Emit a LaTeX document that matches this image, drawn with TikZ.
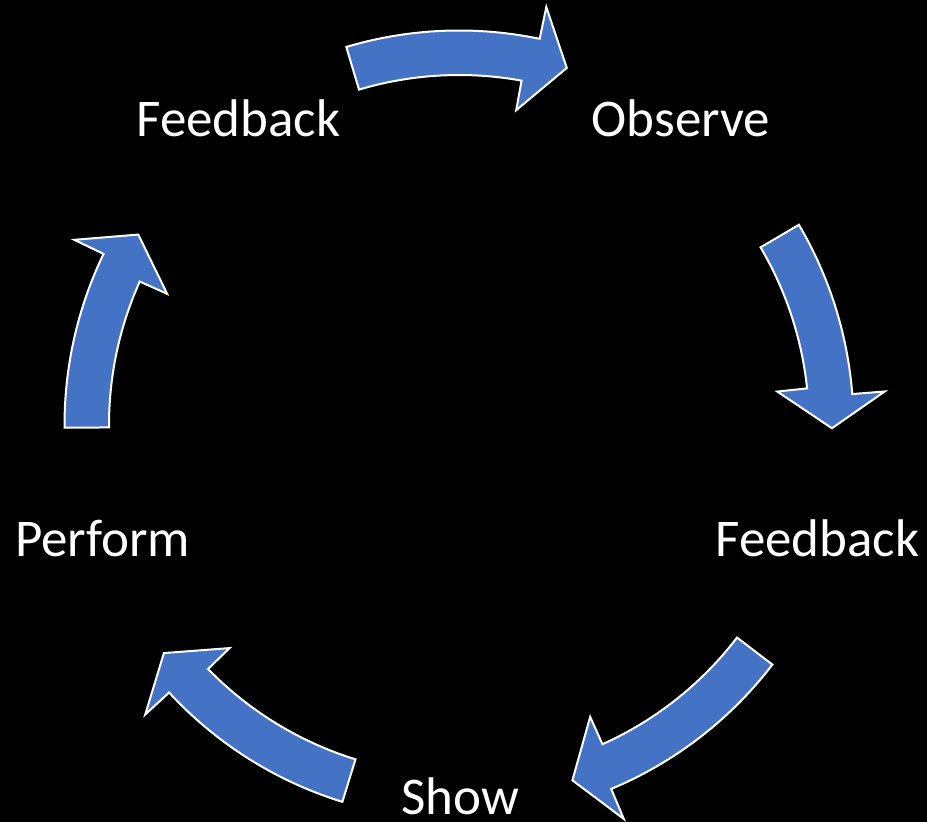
\documentclass[tikz,border=0pt]{standalone}
\usepackage{fontspec}
\setmainfont{Carlito}
\usetikzlibrary{calc}
\definecolor{arrowblue}{HTML}{4472C4}
\begin{document}
\begin{tikzpicture}[x=1pt,y=1pt,
  steplabel/.style={text=white, font=\fontsize{53}{63}\selectfont, inner sep=0pt, anchor=base},
  cyclearrow/.style={fill=arrowblue, draw=white, line width=2pt, line join=miter}]
  % background and page size
  \fill[black] (0,0) rectangle (927,822);
  \useasboundingbox (0,0) rectangle (927,822);
  \coordinate (C) at (459,397);
  % curved clockwise arrow: #1 tail angle, #2 tip angle
  \newcommand\drawcyclearrow[2]{%
    \pgfmathsetmacro\arrowho{#2+5}%
    \pgfmathsetmacro\arrowhi{#2+6.5}%
    \draw[cyclearrow] ($(C)+(#1:394.5pt)$)
      arc[start angle=#1, end angle=\arrowho, radius=394.5pt]
      -- ($(C)+(\arrowho:427pt)$)
      -- ($(C)+(#2:373pt)$)
      -- ($(C)+(\arrowhi:320pt)$)
      -- ($(C)+(\arrowhi:350pt)$)
      arc[start angle=\arrowhi, end angle=#1, radius=350pt]
      -- cycle;}
  \drawcyclearrow{106.6}{73.2}
  \drawcyclearrow{30.5}{-0.5}
  \drawcyclearrow{-37.4}{-72.3}
  \drawcyclearrow{-107.2}{-142.3}
  \drawcyclearrow{180.4}{149.3}
  % step labels
  \node[steplabel] (feedback1) at (238.5,685) {Feedback};
  \node[steplabel] (observe)   at (681,685)   {Observe};
  \node[steplabel] (feedback2) at (817.5,265) {Feedback};
  \node[steplabel] (show)      at (460,7)     {Show};
  \node[steplabel] (perform)   at (102.5,265) {Perform};
\end{tikzpicture}
\end{document}
